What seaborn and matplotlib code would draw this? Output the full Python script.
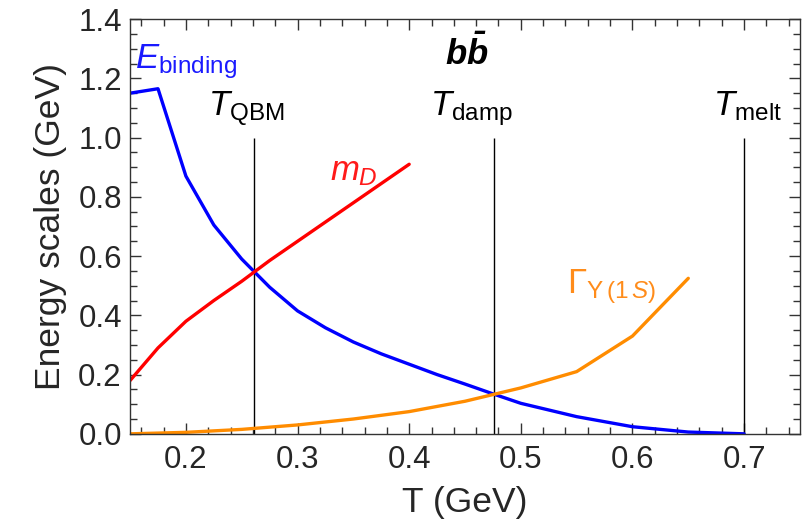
import numpy as np
import pandas as pd
import matplotlib
matplotlib.use("Agg")
import matplotlib.pyplot as plt
import seaborn as sns
from matplotlib.ticker import MultipleLocator

# ---- data ----
T_bind = [0.15, 0.175, 0.2, 0.225, 0.25, 0.275, 0.3, 0.325, 0.35, 0.375, 0.4, 0.425,
          0.45, 0.475, 0.5, 0.55, 0.6, 0.65, 0.7]
E_bind = [1.15, 1.165, 0.87, 0.705, 0.59, 0.495, 0.415, 0.358, 0.31, 0.27, 0.235, 0.2,
          0.168, 0.135, 0.103, 0.058, 0.024, 0.006, 0.0]

T_mD = [0.15, 0.175, 0.2, 0.225, 0.25, 0.275, 0.3, 0.325, 0.35, 0.375, 0.4]
m_D = [0.18, 0.29, 0.38, 0.45, 0.515, 0.585, 0.65, 0.715, 0.78, 0.845, 0.91]

T_gam = [0.15, 0.2, 0.25, 0.3, 0.35, 0.4, 0.45, 0.5, 0.55, 0.6, 0.65]
Gamma = [0.0, 0.005, 0.015, 0.03, 0.05, 0.075, 0.11, 0.155, 0.21, 0.33, 0.525]

T_lines = [0.261, 0.476, 0.70]
T_line_labels = [r'$T_{\rm QBM}$', r'$T_{\rm damp}$', r'$T_{\rm melt}$']

x_ticks = [0.2, 0.3, 0.4, 0.5, 0.6, 0.7]
y_ticks = [0.0, 0.2, 0.4, 0.6, 0.8, 1.0, 1.2, 1.4]

# ---- style ----
sns.set_style("ticks")
plt.rcParams['font.family'] = ['Liberation Sans', 'DejaVu Sans']
plt.rcParams['mathtext.fontset'] = 'custom'
plt.rcParams['mathtext.rm'] = 'Liberation Sans'
plt.rcParams['mathtext.it'] = 'Liberation Sans:italic'
plt.rcParams['mathtext.bf'] = 'Liberation Sans:bold'
plt.rcParams['mathtext.bfit'] = 'Liberation Sans:bold:italic'

df = pd.concat([
    pd.DataFrame({'T': T_bind, 'E': E_bind, 'series': 'Ebinding'}),
    pd.DataFrame({'T': T_mD, 'E': m_D, 'series': 'mD'}),
    pd.DataFrame({'T': T_gam, 'E': Gamma, 'series': 'Gamma'}),
])
palette = {'Ebinding': '#0000ff', 'mD': '#ff0000', 'Gamma': '#ff8c00'}

fig = plt.figure(figsize=(8.08, 5.31), dpi=100)
ax = fig.add_axes([0.161, 0.183, 0.829, 0.781])

sns.lineplot(data=df, x='T', y='E', hue='series', palette=palette, ax=ax,
             linewidth=2.4, legend=False, sort=False, estimator=None)

for t in T_lines:
    ax.vlines(t, 0, 1.0, color='black', linewidth=1.0, zorder=1)

ax.set_xlim(0.15, 0.75)
ax.set_ylim(0.0, 1.4)
ax.set_xticks(x_ticks)
ax.set_yticks(y_ticks)
ax.set_xticklabels([f'{v:.1f}' for v in x_ticks])
ax.set_yticklabels([f'{v:.1f}' for v in y_ticks])
ax.xaxis.set_minor_locator(MultipleLocator(0.02))
ax.yaxis.set_minor_locator(MultipleLocator(0.05))
ax.tick_params(which='both', direction='in', top=True, right=True,
               color='#333333', labelsize=22.5)
ax.tick_params(axis='x', pad=8)
ax.tick_params(axis='y', pad=6)
ax.tick_params(which='major', length=8, width=1)
ax.tick_params(which='minor', length=5, width=1)
for s in ax.spines.values():
    s.set_color('#333333')
    s.set_linewidth(1)

ax.set_xlabel('T (GeV)', fontsize=25.5, labelpad=8)
ax.set_ylabel('Energy scales (GeV)', fontsize=25.5, labelpad=8)

# annotations
ax.text(0.154, 1.235, r'$E_{\rm binding}$', color='#1a1aff', fontsize=25)
ax.text(0.432, 1.245, r'$\mathbfit{b\bar{b}}$', color='black', fontsize=25)
ax.text(0.329, 0.857, r'$m_D$', color='#ff1a1a', fontsize=25)
ax.text(0.541, 0.476, r'$\Gamma_{\Upsilon\,(1\,S)}$', color='#ff8c1a', fontsize=25)
for t, lab, xp in zip(T_lines, T_line_labels, [0.22, 0.419, 0.672]):
    ax.text(xp, 1.076, lab, color='black', fontsize=25)

fig.savefig('out.png', dpi=100)
